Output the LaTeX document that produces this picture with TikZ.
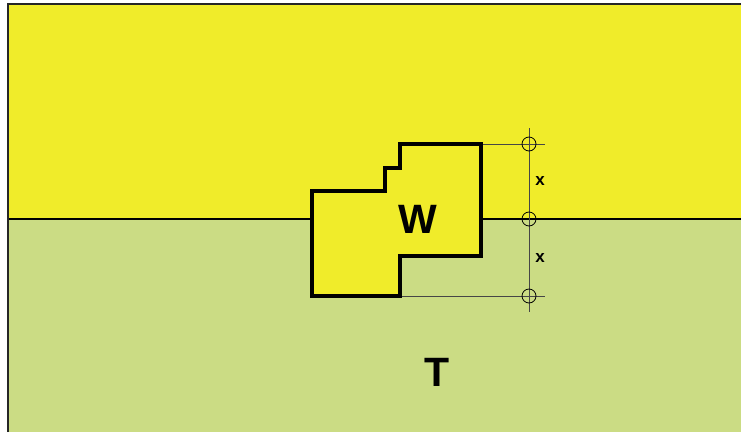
\documentclass[tikz,border=0pt]{standalone}
\usepackage{fontspec}
\setmainfont{Liberation Sans}
\definecolor{topyellow}{RGB}{240,236,42}
\definecolor{lowgreen}{RGB}{203,220,132}
\definecolor{dimgray}{RGB}{70,70,70}
\begin{document}
\begin{tikzpicture}[x=1pt,y=-1pt,
  dimline/.style={draw=dimgray,line width=0.8pt},
  ringmark/.style={circle,draw=black,line width=0.8pt,minimum size=14pt,inner sep=0pt},
  biglabel/.style={font=\bfseries\fontsize{41}{41}\selectfont,inner sep=0pt},
  dimlabel/.style={font=\bfseries\fontsize{17}{17}\selectfont,inner sep=0pt}]
\useasboundingbox (0,0) rectangle (741,432);
\fill[white] (0,0) rectangle (741,432);
\fill[topyellow] (8,4) rectangle (741,219);
\fill[lowgreen] (8,219) rectangle (741,432);
\draw[line width=1.5pt] (8,219) -- (741,219);
\draw[line width=2pt,draw=black!85] (8,432) -- (8,4) -- (741,4);
% dimension lines
\coordinate (d1) at (529,128);
\coordinate (d2) at (529,312);
\coordinate (h1a) at (481,144);
\coordinate (h1b) at (545,144);
\coordinate (h2a) at (400,296);
\coordinate (h2b) at (545,296);
\draw[dimline] (d1) -- (d2);
\draw[dimline] (h1a) -- (h1b);
\draw[dimline] (h2a) -- (h2b);
\node[ringmark] (r1) at (529,144) {};
\node[ringmark] (r2) at (529,219) {};
\node[ringmark] (r3) at (529,296) {};
\node[dimlabel] (x1) at (540,181) {x};
\node[dimlabel] (x2) at (540,258) {x};
% W shape
\draw[fill=topyellow,line width=4pt,line join=miter]
  (312,191) -- (385,191) -- (385,168) -- (400,168) -- (400,144) -- (481,144)
  -- (481,256) -- (400,256) -- (400,296) -- (312,296) -- cycle;
\node[biglabel] (W) at (418,219) {W};
\node[biglabel] (T) at (437,372) {T};
\end{tikzpicture}
\end{document}
